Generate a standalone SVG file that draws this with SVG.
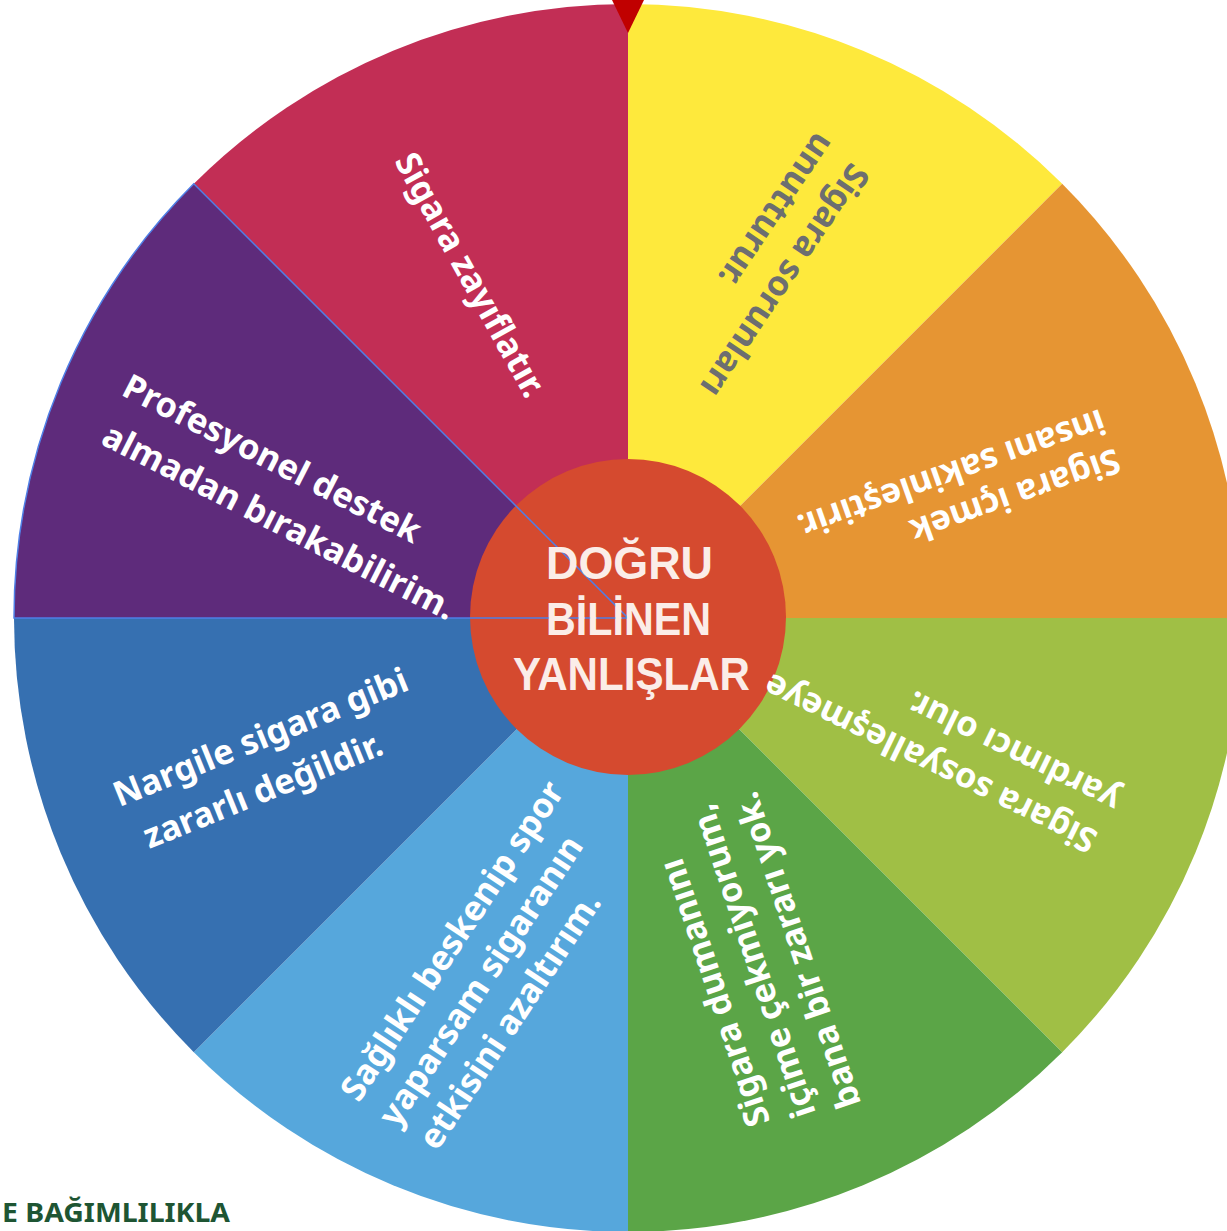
<svg xmlns="http://www.w3.org/2000/svg" width="1227" height="1231" viewBox="0 0 1227 1231">
<style>
.lbl{font-family:"Noto Sans","Open Sans",sans-serif;font-weight:700;font-size:34.5px;fill:#FFFFFF}
.gray{fill:#6D6E70}
.ctr{font-family:"Liberation Sans",Arial,sans-serif;font-weight:700;font-size:46px;fill:#FBEDE8;text-anchor:middle}
.foot{font-family:"Noto Sans","Open Sans",sans-serif;font-weight:700;font-size:27px;fill:#1E5533}
</style>
<rect width="1227" height="1231" fill="#FFFFFF"/>
<g id="sectors">
<path id="s-yellow" d="M628,618 L628,4 A614,614 0 0 1 1062.2,183.8 Z" fill="#FEE93C"/>
<path id="s-orange" d="M628,618 L1062.2,183.8 A614,614 0 0 1 1242,618 Z" fill="#E69533"/>
<path id="s-lightgreen" d="M628,618 L1242,618 A614,614 0 0 1 1062.2,1052.2 Z" fill="#A0BF45"/>
<path id="s-green" d="M628,618 L1062.2,1052.2 A614,614 0 0 1 628,1232 Z" fill="#5BA547"/>
<path id="s-lightblue" d="M628,618 L628,1232 A614,614 0 0 1 193.8,1052.2 Z" fill="#56A7DC"/>
<path id="s-blue" d="M628,618 L193.8,1052.2 A614,614 0 0 1 14,618 Z" fill="#3670B1"/>
<path id="s-purple" d="M628,618 L14,618 A614,614 0 0 1 193.8,183.8 Z" fill="#5E2B7B"/>
<path id="s-crimson" d="M628,618 L193.8,183.8 A614,614 0 0 1 628,4 Z" fill="#C22E55"/>
</g>
<g id="hub">
<circle cx="628" cy="617" r="158" fill="#D54A2F"/>
<path d="M628,618 L14,618 A614,614 0 0 1 193.8,183.8 Z" fill="none" stroke="#4F7FE6" stroke-width="1.5"/>
<text class="ctr"><tspan x="629.5" y="579" textLength="167" lengthAdjust="spacingAndGlyphs">DOĞRU</tspan><tspan x="628.5" y="635" textLength="165" lengthAdjust="spacingAndGlyphs">BİLİNEN</tspan><tspan x="631.5" y="690" textLength="237" lengthAdjust="spacingAndGlyphs">YANLIŞLAR</tspan></text>
</g>
<g id="labels">
<g id="t-yellow"><text class="lbl gray" transform="translate(851,161) rotate(124)"><tspan x="0" y="0">Sigara sorunları</tspan><tspan x="-6" y="46">unutturur.</tspan></text></g>
<g id="t-orange"><text class="lbl" transform="translate(1115,448) rotate(160.5)"><tspan x="0" y="0">Sigara içmek</tspan><tspan x="1" y="42">insanı sakinleştirir.</tspan></text></g>
<g id="t-lightgreen"><text class="lbl" transform="translate(1099.5,832.6) rotate(206)"><tspan x="0" y="0">Sigara sosyalleşmeye</tspan><tspan x="-3" y="47">yardımcı olur.</tspan></text></g>
<g id="t-green"><text class="lbl" transform="translate(770.4,1121.8) rotate(-108.5)"><tspan x="0" y="0">Sigara dumanını</tspan><tspan x="-6" y="46">içime çekmiyorum,</tspan><tspan x="-11.5" y="92">bana bir zararı yok.</tspan></text></g>
<g id="t-lightblue"><text class="lbl" transform="translate(358.7,1103.6) rotate(-56.5)"><tspan x="0" y="0">Sağlıklı beskenip spor</tspan><tspan x="0" y="46">yaparsam sigaranın</tspan><tspan x="3" y="92">etkisini azaltırım.</tspan></text></g>
<g id="t-blue"><text class="lbl" transform="translate(119.3,807.2) rotate(-22)"><tspan x="0" y="0">Nargile sigara gibi</tspan><tspan x="12" y="50">zararlı değildir.</tspan></text></g>
<g id="t-purple"><text class="lbl" transform="translate(120.1,394.5) rotate(27)"><tspan x="0" y="0">Profesyonel destek</tspan><tspan x="4" y="53">almadan bırakabilirim.</tspan></text></g>
<g id="t-crimson"><text class="lbl" transform="translate(393.9,161.1) rotate(61)">Sigara zayıflatır.</text></g>
</g>
<g id="pointer"><polygon points="612,0 644,0 628,33" fill="#C00000"/></g>
<g id="footer"><text class="foot" x="2" y="1222" textLength="228" lengthAdjust="spacingAndGlyphs">E BAĞIMLILIKLA</text></g>
</svg>
